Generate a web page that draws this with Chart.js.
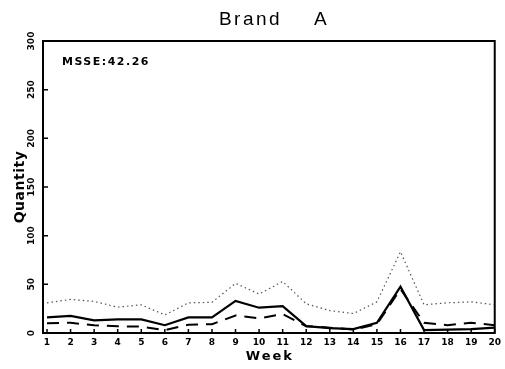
<!DOCTYPE html>
<html>
<head>
<meta charset="utf-8">
<script src="https://cdn.jsdelivr.net/npm/chart.js@4"></script>
<style>
  html, body { margin: 0; padding: 0; background: #fff; }
  #wrap { width: 505px; height: 369px; position: relative; }
</style>
</head>
<body>
<div id="wrap"><canvas id="c"></canvas></div>
<script>
// Weekly series for Brand A
const weeks = [1, 2, 3, 4, 5, 6, 7, 8, 9, 10, 11, 12, 13, 14, 15, 16, 17, 18, 19, 20];
const actual   = [16, 17.5, 13, 14, 14, 8, 16, 16, 33, 26, 27.5, 7, 5, 4, 10.5, 47.5, 3, 3.5, 4, 5.5];
const forecast = [10, 10.5, 8, 7, 6.5, 3, 8.5, 9, 18, 15, 19.5, 7, 5.5, 3.5, 9, 45, 10.5, 8, 10.5, 8];
const upper    = [31, 34.5, 32.5, 26.5, 29, 18.5, 31, 31.5, 51, 40, 53, 30, 23, 20, 32, 83.5, 29, 31, 32, 29];
const yTicks = [0, 50, 100, 150, 200, 250, 300];
const titleText = 'Brand A';
const xTitle = 'Week';
const yTitle = 'Quantity';
const noteText = 'MSSE:42.26';

const toPoints = arr => arr.map((v, i) => ({ x: weeks[i], y: v }));

// Frame, inward tick marks, rotated y labels and captions
const framePlugin = {
  id: 'frame',
  afterDraw(chart) {
    const ctx = chart.ctx;
    const a = chart.chartArea;
    const xs = chart.scales.x, ys = chart.scales.y;
    ctx.save();
    ctx.strokeStyle = '#000';
    ctx.lineWidth = 2;
    ctx.strokeRect(a.left, a.top, a.right - a.left, a.bottom - a.top);

    ctx.lineWidth = 1.5;
    ctx.beginPath();
    yTicks.forEach(v => {
      const y = ys.getPixelForValue(v);
      ctx.moveTo(a.left, y); ctx.lineTo(a.left + 5, y);
    });
    weeks.forEach(w => {
      const x = xs.getPixelForValue(w);
      ctx.moveTo(x, a.bottom); ctx.lineTo(x, a.bottom - 4);
    });
    ctx.stroke();

    // y tick labels, rotated
    ctx.fillStyle = '#000';
    ctx.font = 'bold 9px "DejaVu Sans"';
    ctx.textAlign = 'center';
    ctx.textBaseline = 'middle';
    yTicks.forEach(v => {
      const y = ys.getPixelForValue(v);
      ctx.save();
      ctx.translate(32, y);
      ctx.rotate(-Math.PI / 2);
      ctx.fillText(String(v), 0, 0);
      ctx.restore();
    });

    // y axis title
    ctx.save();
    ctx.font = 'bold 14px "DejaVu Sans"';
    ctx.letterSpacing = '0.5px';
    ctx.translate(20, (a.top + a.bottom) / 2);
    ctx.rotate(-Math.PI / 2);
    ctx.fillText(yTitle, 0, 0);
    ctx.restore();

    // x axis title
    ctx.save();
    ctx.font = 'bold 13px "DejaVu Sans"';
    ctx.letterSpacing = '2px';
    ctx.fillText(xTitle, (a.left + a.right) / 2 + 1, 357);
    ctx.restore();

    // main title
    ctx.save();
    ctx.font = '19px "Liberation Sans"';
    ctx.letterSpacing = '2.5px';
    ctx.wordSpacing = '24px';
    ctx.fillText(titleText, 274, 20);
    ctx.restore();

    // fit statistic
    ctx.save();
    ctx.font = 'bold 11px "DejaVu Sans"';
    ctx.letterSpacing = '1.5px';
    ctx.textAlign = 'left';
    ctx.fillText(noteText, 62, 62);
    ctx.restore();

    ctx.restore();
  }
};

new Chart(document.getElementById('c'), {
  type: 'line',
  data: {
    datasets: [
      { label: 'Upper', data: toPoints(upper), borderColor: '#555', borderWidth: 1.2,
        borderDash: [1.5, 3], pointRadius: 0, tension: 0, fill: false },
      { label: 'Forecast', data: toPoints(forecast), borderColor: '#000', borderWidth: 2,
        borderDash: [12, 8], pointRadius: 0, tension: 0, fill: false },
      { label: 'Actual', data: toPoints(actual), borderColor: '#000', borderWidth: 2.2,
        pointRadius: 0, tension: 0, fill: false }
    ]
  },
  options: {
    responsive: true,
    maintainAspectRatio: false,
    animation: false,
    layout: { padding: { top: 41, right: 6, left: 0, bottom: 0 } },
    plugins: { legend: { display: false }, tooltip: { enabled: false }, title: { display: false } },
    scales: {
      x: {
        type: 'linear', min: 0.83, max: 20,
        grid: { display: false, drawTicks: false },
        border: { display: false },
        afterBuildTicks: s => { s.ticks = weeks.map(v => ({ value: v })); },
        afterFit: s => { s.height = 36; },
        ticks: { autoSkip: false, maxRotation: 0, padding: 4, color: '#000',
                 font: { family: 'DejaVu Sans', size: 9, weight: 'bold' },
                 callback: v => String(v) }
      },
      y: {
        type: 'linear', min: 0, max: 300,
        grid: { display: false, drawTicks: false },
        border: { display: false },
        ticks: { display: false },
        afterBuildTicks: s => { s.ticks = yTicks.map(v => ({ value: v })); },
        afterFit: s => { s.width = 43; }
      }
    }
  },
  plugins: [framePlugin]
});
</script>
</body>
</html>
